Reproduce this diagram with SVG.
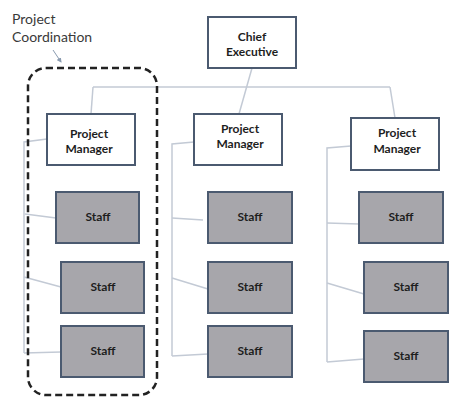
<svg xmlns="http://www.w3.org/2000/svg" width="455" height="405" viewBox="0 0 455 405">
<style>
.box{fill:#ffffff;stroke:#4b5a70;stroke-width:2}
.staff{fill:#a7a6ab;stroke:#4b5a70;stroke-width:2}
.lbl{font-family:Lato,"Liberation Sans",sans-serif;font-weight:bold;font-size:12px;fill:#1e1e1e;text-anchor:middle}
.conn{fill:none;stroke:#c3cad5;stroke-width:1.5}
.note{font-family:Lato,"Liberation Sans",sans-serif;font-size:14px;fill:#3a3a3a}
</style>
<defs>
<marker id="ah" viewBox="0 0 10 10" refX="8" refY="5" markerWidth="5" markerHeight="5" orient="auto">
<path d="M0,0 L10,5 L0,10 z" fill="#8a9bb0"/>
</marker>
</defs>
<rect width="455" height="405" fill="#ffffff"/>
<g id="connectors">
<path class="conn" d="M93,87 L390,87"/>
<path class="conn" d="M91,114 L93,87"/>
<path class="conn" d="M252,68 L239,114"/>
<path class="conn" d="M390,87 L395,118"/>
<path class="conn" d="M47,139 L24,142 L24,353"/>
<path class="conn" d="M25,214 L56,218"/>
<path class="conn" d="M24,277 L61,287"/>
<path class="conn" d="M24,353 L61,352"/>
<path class="conn" d="M194,142 L172,144 L172,356"/>
<path class="conn" d="M172,218 L203,220"/>
<path class="conn" d="M172,278 L208,289"/>
<path class="conn" d="M172,356 L208,354"/>
<path class="conn" d="M351,146 L327,148 L327,362"/>
<path class="conn" d="M327,223 L359,224"/>
<path class="conn" d="M327,283 L364,294"/>
<path class="conn" d="M327,362 L364,359"/>
</g>
<g id="coordination">
<rect x="28" y="68" width="129" height="327" rx="18" ry="18" fill="none" stroke="#222222" stroke-width="2.5" stroke-dasharray="7,4"/>
<text class="note" x="12" y="24">Project</text>
<text class="note" x="12" y="42">Coordination</text>
<path d="M53,50 L61,62" stroke="#8a9bb0" stroke-width="1" fill="none" marker-end="url(#ah)"/>
</g>
<g id="chief">
<rect class="box" x="208" y="17" width="88" height="51"/>
<text class="lbl" x="252" y="41">Chief</text>
<text class="lbl" x="252" y="56">Executive</text>
</g>
<g id="pm1">
<rect class="box" x="47" y="114" width="88" height="51"/>
<text class="lbl" x="89" y="138">Project</text>
<text class="lbl" x="89" y="153">Manager</text>
</g>
<g id="pm2">
<rect class="box" x="194" y="114" width="88" height="51"/>
<text class="lbl" x="240" y="133">Project</text>
<text class="lbl" x="240" y="148">Manager</text>
</g>
<g id="pm3">
<rect class="box" x="351" y="118" width="88" height="52"/>
<text class="lbl" x="397" y="137">Project</text>
<text class="lbl" x="397" y="153">Manager</text>
</g>
<g id="staff1a"><rect class="staff" x="56" y="192" width="83" height="51"/><text class="lbl" x="98" y="221">Staff</text></g>
<g id="staff1b"><rect class="staff" x="61" y="262" width="83" height="51"/><text class="lbl" x="103" y="291">Staff</text></g>
<g id="staff1c"><rect class="staff" x="61" y="326" width="83" height="51"/><text class="lbl" x="103" y="355">Staff</text></g>
<g id="staff2a"><rect class="staff" x="208" y="192" width="84" height="51"/><text class="lbl" x="250" y="221">Staff</text></g>
<g id="staff2b"><rect class="staff" x="208" y="262" width="84" height="51"/><text class="lbl" x="250" y="291">Staff</text></g>
<g id="staff2c"><rect class="staff" x="208" y="326" width="84" height="51"/><text class="lbl" x="250" y="355">Staff</text></g>
<g id="staff3a"><rect class="staff" x="359" y="192" width="84" height="51"/><text class="lbl" x="401" y="221">Staff</text></g>
<g id="staff3b"><rect class="staff" x="364" y="262" width="84" height="51"/><text class="lbl" x="406" y="291">Staff</text></g>
<g id="staff3c"><rect class="staff" x="364" y="331" width="84" height="51"/><text class="lbl" x="406" y="360">Staff</text></g>
</svg>
